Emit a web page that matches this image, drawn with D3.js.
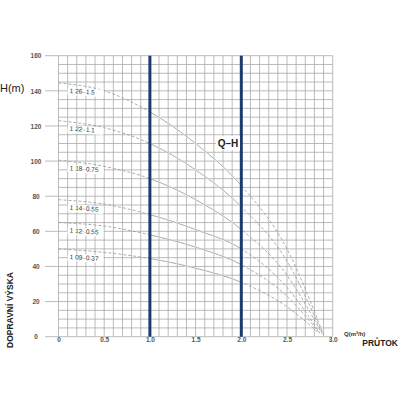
<!DOCTYPE html>
<html>
<head>
<meta charset="utf-8">
<title>Q-H</title>
<script src="https://d3js.org/d3.v7.min.js"></script>
<style>
  body { margin: 0; background: #fff; }
  svg { display: block; font-family: "Liberation Sans", Arial, sans-serif; }
</style>
</head>
<body>
<svg width="400" height="400"></svg>
<script>
// flow points (m3/h) shared by every curve, plus the end point of each curve
const flow = [0, 0.5, 1.0, 1.5, 2.0, 2.5];
const models = ["26-1.5", "22-1.1", "18-0.75", "14-0.55", "12-0.55", "09-0.37"];
const head26 = [144.5, 140, 128, 110, 86, 50];
const head22 = [123, 119, 110, 95, 74, 43];
const head18 = [100.5, 97, 90, 78, 61, 35];
const head14 = [78, 75.5, 69.5, 61, 50, 28];
const head12 = [65, 63, 58, 51, 41, 23];
const head09 = [50, 48, 44.5, 39, 31, 17];
const endQ = [2.9, 2.89, 2.88, 2.86, 2.85, 2.83];
const endH = [1, 1.5, 2, 2, 2.5, 3];
const xTicks = [0, 0.5, 1.0, 1.5, 2.0, 2.5, 3.0];
const yTicks = [0, 20, 40, 60, 80, 100, 120, 140, 160];
const rangeMarks = [1.0, 2.0];

const heads = [head26, head22, head18, head14, head12, head09];

const svg = d3.select("svg");
const x = d3.scaleLinear().domain([0, 3]).range([58.5, 332.7]);
const y = d3.scaleLinear().domain([0, 160]).range([336.7, 55.7]);

// grid
const grid = svg.append("g").attr("stroke", "#aaa").attr("stroke-width", 0.8);
grid.selectAll(".gx").data(d3.range(0, 31)).join("line")
  .attr("x1", d => x(d / 10)).attr("x2", d => x(d / 10))
  .attr("y1", y(0)).attr("y2", y(160));
grid.selectAll(".gy").data(d3.range(0, 33)).join("line")
  .attr("y1", d => y(d * 5)).attr("y2", d => y(d * 5))
  .attr("x1", d => (d % 4 === 0 ? 45 : x(0))).attr("x2", x(3));

// axes as text only
const yAxis = d3.axisLeft(y).tickValues(yTicks).tickSize(0).tickPadding(0)
  .tickFormat(d3.format("d"));
const gy = svg.append("g").attr("transform", "translate(36,0)").call(yAxis);
gy.select(".domain").remove();
gy.selectAll("text").attr("text-anchor", "middle").attr("font-size", 6.5)
  .attr("fill", "#555").attr("font-weight", "bold").attr("dy", "0.35em");

const xAxis = d3.axisBottom(x).tickValues(xTicks).tickSize(0).tickPadding(0)
  .tickFormat(d => d === 0 ? "0" : d3.format(".1f")(d));
const gx = svg.append("g").attr("transform", "translate(0,340)").call(xAxis);
gx.select(".domain").remove();
gx.selectAll("text").attr("font-size", 6.5).attr("fill", "#555")
  .attr("font-weight", "bold").attr("dy", "0.3em");

// curves: dashed all along, solid inside 1.0-2.0
svg.append("clipPath").attr("id", "mid").append("rect")
  .attr("x", x(1)).attr("y", 0).attr("width", x(2) - x(1)).attr("height", 400);

const line = d3.line().x(d => x(d[0])).y(d => y(d[1])).curve(d3.curveMonotoneX);
const curves = heads.map((h, i) => flow.map((q, j) => [q, h[j]]).concat([[endQ[i], endH[i]]]));

svg.append("g").selectAll("path").data(curves).join("path")
  .attr("d", line).attr("fill", "none").attr("stroke", "#999")
  .attr("stroke-width", 0.8).attr("stroke-dasharray", "3,2");
svg.append("g").attr("clip-path", "url(#mid)").selectAll("path").data(curves).join("path")
  .attr("d", line).attr("fill", "none").attr("stroke", "#fff").attr("stroke-width", 1.6);
svg.append("g").attr("clip-path", "url(#mid)").selectAll("path").data(curves).join("path")
  .attr("d", line).attr("fill", "none").attr("stroke", "#999").attr("stroke-width", 0.8);

// operating range marks
svg.append("g").selectAll("line").data(rangeMarks).join("line")
  .attr("x1", d => x(d)).attr("x2", d => x(d))
  .attr("y1", y(0)).attr("y2", y(160))
  .attr("stroke", "#1d3a6e").attr("stroke-width", 3);

// curve labels
const lab = svg.append("g").selectAll("g").data(models).join("g")
  .attr("transform", (d, i) => `translate(${x(0.12)},${y(heads[i][0]) + 10}) rotate(4)`);
lab.append("rect").attr("x", -2).attr("y", -5.5).attr("width", 36).attr("height", 7.5).attr("fill", "#fff");
lab.append("text").attr("font-size", 6.5).attr("fill", "#333")
  .text(d => "1 " + d.replace("-", "–"));

// Q-H label
svg.append("rect").attr("x", 216).attr("y", 136).attr("width", 24).attr("height", 14).attr("fill", "#fff");
svg.append("text").attr("x", 228).attr("y", 147).attr("text-anchor", "middle")
  .attr("font-size", 10).attr("font-weight", "bold").attr("fill", "#222").text("Q–H");

// axis titles
svg.append("text").attr("x", 0).attr("y", 92).attr("font-size", 11).attr("fill", "#222").text("H(m)");
svg.append("text").attr("transform", "translate(13,310) rotate(-90)").attr("text-anchor", "middle")
  .attr("font-size", 8.5).attr("font-weight", "bold").attr("fill", "#222").text("DOPRAVNÍ VÝSKA");
svg.append("text").attr("x", 344).attr("y", 336).attr("font-size", 6).attr("fill", "#333")
  .attr("font-weight", "bold").text("Q(m³/h)");
svg.append("text").attr("x", 398).attr("y", 346).attr("text-anchor", "end").attr("font-size", 8.5)
  .attr("font-weight", "bold").attr("fill", "#222").text("PRŮTOK");
</script>
</body>
</html>
